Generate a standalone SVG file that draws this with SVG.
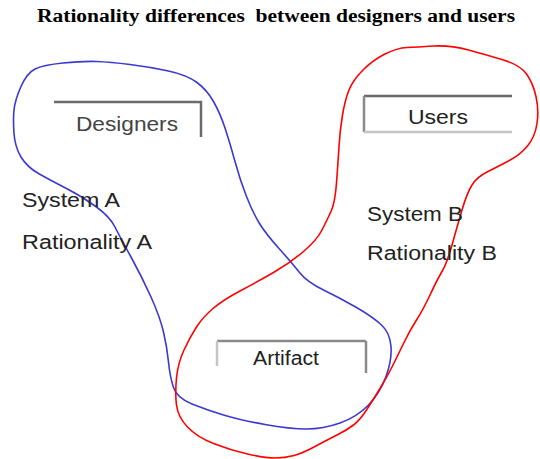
<svg xmlns="http://www.w3.org/2000/svg" width="540" height="459" viewBox="0 0 540 459">
  <style>
    .title { font-family: "Liberation Serif", "Times New Roman", serif; font-weight: bold; font-size: 18px; fill: #000; white-space: pre; }
    .label { font-family: "Liberation Sans", Arial, sans-serif; font-size: 20px; fill: #222; }
    .edge-dark { stroke: #6a6a6a; stroke-width: 2.5; fill: none; }
    .edge-mid { stroke: #8a8a8a; stroke-width: 2.5; fill: none; }
    .edge-light { stroke: #c4c4c4; stroke-width: 2.5; fill: none; }
    .loop { fill: none; stroke-width: 1.6; stroke-linejoin: round; }
    .loop-a { stroke: #3a3ad0; }
    .loop-b { stroke: #ff0000; }
  </style>
  <rect width="540" height="459" fill="#fff"/>

  <text class="title" x="37" y="22" textLength="478" lengthAdjust="spacingAndGlyphs" xml:space="preserve">Rationality differences  between designers and users</text>

  <!-- boundary loops -->
  <g id="connectors">
    <path id="loop-designers" class="loop loop-a" d="M63,63 Q83,61 96.5,61.5 Q110,62 130,64.5 Q150,67 168.5,71 Q187,75 197,82.5 Q207,90 213.5,101.5 Q220,113 225,128 Q230,143 235,161.5 Q240,180 246.5,196.5 Q253,213 259.5,223.5 Q266,234 279,248.5 Q292,263 299.5,272.5 Q307,282 323.5,290 Q340,298 356.5,307.5 Q373,317 381.5,325 Q390,333 391,346.5 Q392,360 386,376.5 Q380,393 368.5,405 Q357,417 340,423 Q323,429 306.5,429 Q290,429 265,424.5 Q240,420 223.5,415 Q207,410 192,404 Q177,398 173.5,387.5 Q170,377 168.5,362 Q167,347 163.5,332 Q160,317 151,297 Q142,277 131,257 Q120,237 115,227 Q110,217 96.5,207 Q83,197 66.5,188.5 Q50,180 38.5,173.5 Q27,167 21,157 Q15,147 14,133.5 Q13,120 14,110 Q15,100 21,86.5 Q27,73 35,69 Q43,65 63,63 Z"/>
    <path id="loop-users" class="loop loop-b" d="M407,47.5 Q417,47 433.5,46 Q450,45 468.5,50 Q487,55 503.5,60 Q520,65 526.5,74 Q533,83 536,96.5 Q539,110 537,123.5 Q535,137 527.5,146 Q520,155 508.5,161 Q497,167 487,172 Q477,177 472,185 Q467,193 462,210 Q457,227 452,245 Q447,263 442,271.5 Q437,280 430,295 Q423,310 416.5,320 Q410,330 403.5,343.5 Q397,357 392,367 Q387,377 380,388.5 Q373,400 366.5,410 Q360,420 353.5,425 Q347,430 337,435 Q327,440 315,446.5 Q303,453 294,455.5 Q285,458 275,458 Q265,458 247.5,454 Q230,450 213.5,443.5 Q197,437 187.5,427 Q178,417 176.5,405 Q175,393 176.5,378 Q178,363 184,350 Q190,337 196.5,327 Q203,317 213,308.5 Q223,300 240,291 Q257,282 273.5,272.5 Q290,263 303.5,251.5 Q317,240 322,230 Q327,220 331,211.5 Q335,203 336.5,183 Q338,163 339,146.5 Q340,130 342.5,115 Q345,100 349,90 Q353,80 363,70 Q373,60 385,54 Q397,48 407,47.5 Z"/>
  </g>

  <g id="designers">
    <polyline class="edge-dark" points="54,102 201,102 201,137"/>
    <text class="label" x="76" y="131" textLength="102" lengthAdjust="spacingAndGlyphs" fill="#444" style="fill:#444">Designers</text>
  </g>

  <g id="users">
    <line class="edge-dark" x1="364" y1="96" x2="512" y2="96"/>
    <line class="edge-mid" x1="364" y1="96" x2="364" y2="132"/>
    <line class="edge-light" x1="364" y1="132" x2="512" y2="132"/>
    <text class="label" x="408" y="124" textLength="60" lengthAdjust="spacingAndGlyphs">Users</text>
  </g>

  <g id="artifact">
    <line class="edge-mid" x1="217" y1="341" x2="366" y2="341"/>
    <line class="edge-light" x1="217" y1="341" x2="217" y2="366"/>
    <line class="edge-mid" x1="366" y1="341" x2="366" y2="373"/>
    <text class="label" x="253" y="365" textLength="66" lengthAdjust="spacingAndGlyphs">Artifact</text>
  </g>

  <g id="side-a">
    <text class="label" x="22" y="207" textLength="98" lengthAdjust="spacingAndGlyphs">System A</text>
    <text class="label" x="22" y="249" textLength="130" lengthAdjust="spacingAndGlyphs">Rationality A</text>
  </g>

  <g id="side-b">
    <text class="label" x="367" y="221" textLength="96" lengthAdjust="spacingAndGlyphs">System B</text>
    <text class="label" x="367" y="260" textLength="130" lengthAdjust="spacingAndGlyphs">Rationality B</text>
  </g>
</svg>
